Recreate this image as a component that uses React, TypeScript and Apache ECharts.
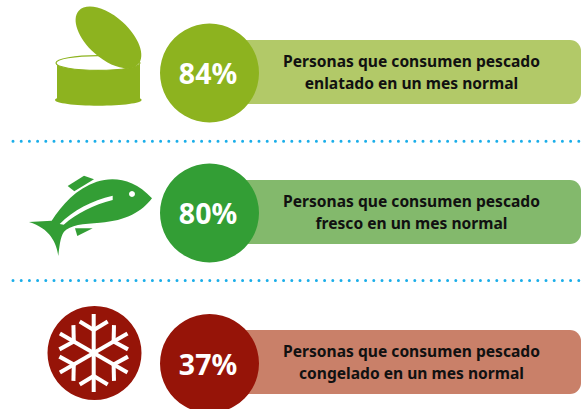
import React, { useEffect, useRef } from "react";
import * as echarts from "echarts";

const percentages = [84, 80, 37];
const captionFirstLines = [
  "Personas que consumen pescado",
  "Personas que consumen pescado",
  "Personas que consumen pescado",
];
const captionSecondLines = [
  "enlatado en un mes normal",
  "fresco en un mes normal",
  "congelado en un mes normal",
];

const WIDTH = 581;
const HEIGHT = 409;
const FONT = '"Noto Sans", sans-serif';
const rowCenters = [73, 213, 363.5];
const barTops = [40, 180, 330];
const circleColors = ["#8DB31F", "#339E35", "#961408"];
const barColors = ["#B2C968", "#83B96C", "#C98069"];

const z = (x: number, y: number) => `${(x / 3 + 20).toFixed(1)} ${(y / 3 + 150).toFixed(1)}`;
const fishBody =
  `M${z(27, 216)} L${z(95, 212)} C${z(125, 165)} ${z(170, 115)} ${z(230, 95)} ` +
  `C${z(280, 80)} ${z(340, 85)} ${z(396, 145)} C${z(365, 185)} ${z(320, 212)} ${z(240, 218)} ` +
  `C${z(190, 221)} ${z(150, 225)} ${z(132, 245)} C${z(120, 262)} ${z(118, 295)} ${z(115, 318)} ` +
  `C${z(110, 280)} ${z(90, 235)} ${z(27, 216)} Z`;
const fishTopFin = `M${z(143, 108)} L${z(192, 77)} L${z(222, 88)} L${z(163, 124)} Z`;
const fishBottomFin = `M${z(165, 235)} L${z(218, 235)} L${z(172, 258)} Z`;
const fishSlash =
  `M${z(278, 137)} L${z(278, 150)} C${z(220, 165)} ${z(170, 190)} ${z(131, 224)} L${z(119, 222)} ` +
  `C${z(160, 180)} ${z(215, 152)} ${z(278, 137)} Z`;

echarts.graphic.registerShape("fishBody", echarts.graphic.extendPath(fishBody, {}));
echarts.graphic.registerShape("fishTopFin", echarts.graphic.extendPath(fishTopFin, {}));
echarts.graphic.registerShape("fishBottomFin", echarts.graphic.extendPath(fishBottomFin, {}));
echarts.graphic.registerShape("fishSlash", echarts.graphic.extendPath(fishSlash, {}));

function roundedBar(i: number) {
  return {
    type: "rect",
    shape: { x: 230, y: barTops[i], width: WIDTH - 230, height: 64, r: [0, 11, 11, 0] },
    style: { fill: barColors[i] },
  };
}

function circleAndTexts(i: number) {
  return [
    {
      type: "circle",
      shape: { cx: 209.5, cy: rowCenters[i], r: 49.5 },
      style: { fill: circleColors[i] },
    },
    {
      type: "text",
      x: 208,
      y: rowCenters[i],
      style: {
        text: `${percentages[i]}%`,
        fill: "#FFFFFF",
        font: `bold 28.5px ${FONT}`,
        align: "center",
        verticalAlign: "middle",
      },
    },
    {
      type: "text",
      x: 411.5,
      y: barTops[i] + 20.5,
      style: {
        text: captionFirstLines[i],
        fill: "#111111",
        font: `bold 15.6px ${FONT}`,
        align: "center",
        verticalAlign: "middle",
      },
    },
    {
      type: "text",
      x: 411.5,
      y: barTops[i] + 42.5,
      style: {
        text: captionSecondLines[i],
        fill: "#111111",
        font: `bold 15.6px ${FONT}`,
        align: "center",
        verticalAlign: "middle",
      },
    },
  ];
}

function dottedLine(y: number) {
  return {
    type: "line",
    shape: { x1: 13, y1: y, x2: WIDTH, y2: y },
    style: { stroke: "#1BAEE9", lineWidth: 3, lineDash: [0, 8.2], lineCap: "round" },
  };
}

function canIcon() {
  const green = circleColors[0];
  return [
    { type: "ellipse", shape: { cx: 98.3, cy: 100, rx: 43.3, ry: 5.7 }, style: { fill: green } },
    { type: "rect", shape: { x: 57, y: 63, width: 83, height: 36 }, style: { fill: green } },
    {
      type: "ellipse",
      shape: { cx: 98, cy: 63, rx: 42, ry: 7.4 },
      style: { fill: "#FFFFFF", stroke: green, lineWidth: 1.2 },
    },
    {
      type: "ellipse",
      x: 108.5,
      y: 37.5,
      rotation: -(42 * Math.PI) / 180,
      shape: { cx: 0, cy: 0, rx: 40, ry: 21 },
      style: { fill: green },
    },
  ];
}

function fishIcon() {
  const green = circleColors[1];
  return [
    { type: "fishBody", style: { fill: green } },
    { type: "fishTopFin", style: { fill: green } },
    { type: "fishBottomFin", style: { fill: green } },
    { type: "fishSlash", style: { fill: "#FFFFFF" } },
    { type: "circle", shape: { cx: 132, cy: 194, r: 3 }, style: { fill: "#FFFFFF" } },
  ];
}

function snowIcon() {
  const cx = 93.7;
  const cy = 353;
  const white = { stroke: "#FFFFFF", lineWidth: 4, lineCap: "butt" };
  const arms: any[] = [];
  for (let k = 0; k < 6; k++) {
    arms.push({
      type: "group",
      x: cx,
      y: cy,
      rotation: (k * Math.PI) / 3,
      children: [
        { type: "line", shape: { x1: 0, y1: 0, x2: 0, y2: -39 }, style: white },
        { type: "line", shape: { x1: 0, y1: -23, x2: -14, y2: -31.5 }, style: white },
        { type: "line", shape: { x1: 0, y1: -23, x2: 14, y2: -31.5 }, style: white },
      ],
    });
  }
  return [
    { type: "circle", shape: { cx: 94.5, cy: 353, r: 47 }, style: { fill: circleColors[2] } },
    ...arms,
  ];
}

export default function App() {
  const ref = useRef<HTMLDivElement>(null);
  useEffect(() => {
    document.body.style.margin = "0";
    const chart = echarts.init(ref.current!, undefined, { renderer: "svg" });
    chart.setOption({
      animation: false,
      backgroundColor: "#FFFFFF",
      graphic: {
        elements: [
          ...canIcon(),
          ...fishIcon(),
          ...snowIcon(),
          dottedLine(141.3),
          dottedLine(280.5),
          ...percentages.map((_, i) => roundedBar(i)),
          ...percentages.flatMap((_, i) => circleAndTexts(i)),
        ],
      },
    });
    return () => chart.dispose();
  }, []);
  return <div ref={ref} style={{ width: WIDTH, height: HEIGHT, overflow: "hidden" }} />;
}
